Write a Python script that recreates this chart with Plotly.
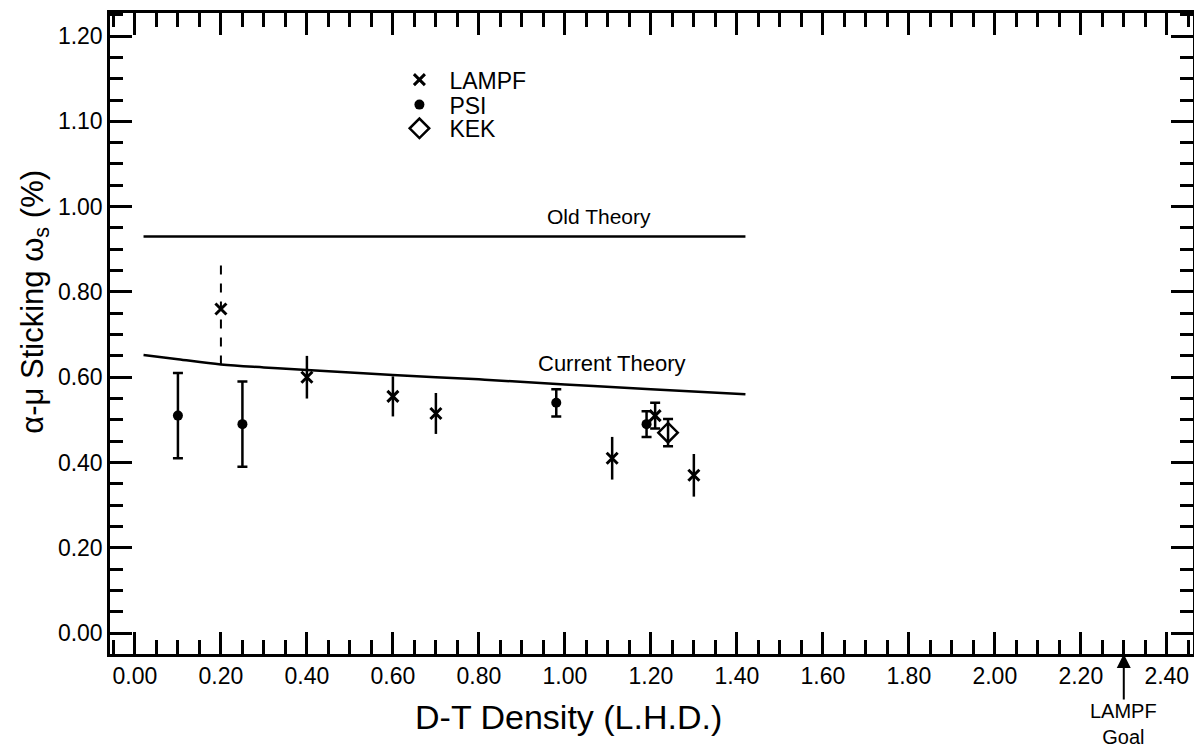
import plotly.graph_objects as go

# ---------------- data ----------------
lampf_x = [0.40, 0.60, 0.70, 1.11, 1.30]
lampf_y = [0.60, 0.555, 0.515, 0.41, 0.37]
lampf_err = [0.05, 0.047, 0.048, 0.05, 0.05]

lampf_dash_x = [0.20]
lampf_dash_y = [0.76]
lampf_dash_up = [0.12]
lampf_dash_dn = [0.13]

lampf_cap_x = [1.21]
lampf_cap_y = [0.51]
lampf_cap_err = [0.03]

psi_x = [0.10, 0.25, 0.98, 1.19]
psi_y = [0.51, 0.49, 0.54, 0.49]
psi_err = [0.10, 0.10, 0.032, 0.03]

kek_x = [1.24]
kek_y = [0.47]
kek_err = [0.032]

old_theory_x = [0.02, 1.42]
old_theory_y = [0.93, 0.93]

cur_theory_x = [0.02, 0.10, 0.20, 0.30, 0.40, 0.60, 0.80, 1.00, 1.20, 1.42]
cur_theory_y = [0.652, 0.642, 0.630, 0.623, 0.617, 0.605, 0.595, 0.583, 0.572, 0.560]

x_tickvals = [0.0, 0.2, 0.4, 0.6, 0.8, 1.0, 1.2, 1.4, 1.6, 1.8, 2.0, 2.2, 2.4]
y_tickvals = [0.0, 0.2, 0.4, 0.6, 0.8, 1.0, 1.2, 1.4]
y_ticktext = ["0.00", "0.20", "0.40", "0.60", "0.80", "1.00", "1.10", "1.20"]

goal_x = 2.30

FONT = "Liberation Sans, Arial, sans-serif"
BLACK = "black"

fig = go.Figure()

# theory curves
fig.add_trace(go.Scatter(x=old_theory_x, y=old_theory_y, mode="lines",
                         line=dict(color=BLACK, width=2.5), showlegend=False,
                         hoverinfo="skip"))
fig.add_trace(go.Scatter(x=cur_theory_x, y=cur_theory_y, mode="lines",
                         line=dict(color=BLACK, width=2.5, shape="spline"),
                         showlegend=False, hoverinfo="skip"))

# dashed error bar for the first LAMPF point
for xv, yv, up, dn in zip(lampf_dash_x, lampf_dash_y, lampf_dash_up, lampf_dash_dn):
    fig.add_trace(go.Scatter(x=[xv, xv], y=[yv - dn, yv + up], mode="lines",
                             line=dict(color=BLACK, width=2, dash="dash"),
                             showlegend=False, hoverinfo="skip"))

# LAMPF
fig.add_trace(go.Scatter(
    x=lampf_x + lampf_dash_x, y=lampf_y + lampf_dash_y, mode="markers",
    name="LAMPF", legend="legend",
    marker=dict(symbol="x-thin", size=11, color=BLACK, line=dict(color=BLACK, width=3)),
    error_y=dict(type="data", array=lampf_err + [0], color=BLACK, thickness=2.5, width=0),
))
fig.add_trace(go.Scatter(
    x=lampf_cap_x, y=lampf_cap_y, mode="markers", name="LAMPF", showlegend=False,
    marker=dict(symbol="x-thin", size=11, color=BLACK, line=dict(color=BLACK, width=3)),
    error_y=dict(type="data", array=lampf_cap_err, color=BLACK, thickness=2.5, width=5),
))

# PSI
fig.add_trace(go.Scatter(
    x=psi_x, y=psi_y, mode="markers", name="PSI", legend="legend2",
    marker=dict(symbol="circle", size=10, color=BLACK),
    error_y=dict(type="data", array=psi_err, color=BLACK, thickness=2.5, width=5),
))

# KEK
fig.add_trace(go.Scatter(
    x=kek_x, y=kek_y, mode="markers", name="KEK", legend="legend3",
    marker=dict(symbol="diamond-open", size=15, color=BLACK, line=dict(color=BLACK, width=2.5)),
    error_y=dict(type="data", array=kek_err, color=BLACK, thickness=2.5, width=5),
))

axis_common = dict(
    showgrid=False, zeroline=False, showline=True, linecolor=BLACK, linewidth=2.5,
    mirror="allticks", ticks="inside", ticklen=22, tickwidth=2.5, tickcolor=BLACK,
    tickfont=dict(family=FONT, size=23, color=BLACK),
)

fig.update_xaxes(
    range=[-0.058, 2.461], tickvals=x_tickvals, tickformat=".2f",
    minor=dict(dtick=0.05, tick0=0, ticks="inside", ticklen=14, tickwidth=2.5, tickcolor=BLACK),
    **axis_common,
)
fig.update_yaxes(
    range=[-0.049, 1.454], tickvals=y_tickvals, ticktext=y_ticktext,
    minor=dict(dtick=0.05, tick0=0, ticks="inside", ticklen=13, tickwidth=2.5, tickcolor=BLACK),
    **axis_common,
)

annotations = [
    dict(text="Old Theory", x=1.08, y=0.945, xref="x", yref="y", showarrow=False,
         yanchor="bottom", font=dict(family=FONT, size=21, color=BLACK)),
    dict(text="Current Theory", x=1.11, y=0.632, xref="x", yref="y", showarrow=False,
         font=dict(family=FONT, size=22, color=BLACK)),
    dict(text="D-T Density (L.H.D.)", x=0.423, y=-0.099, xref="paper", yref="paper",
         showarrow=False, yanchor="middle", font=dict(family=FONT, size=34, color=BLACK)),
    dict(text="α-μ Sticking ω<sub>s</sub> (%)", x=-0.069, y=0.55, xref="paper", yref="paper",
         showarrow=False, textangle=-90, xanchor="center", yanchor="middle",
         font=dict(family=FONT, size=31, color=BLACK)),
    # arrow pointing up at the goal density, with its two-line label below it
    dict(text="LAMPF<br>Goal", x=goal_x, y=0, xref="x", yref="paper", showarrow=True,
         ax=0, ay=70, arrowhead=2, arrowsize=1.4, arrowwidth=2, arrowcolor=BLACK,
         align="center", borderpad=0, font=dict(family=FONT, size=20, color=BLACK)),
]

leg_common = dict(x=0.258, xanchor="left", yanchor="middle", bgcolor="rgba(0,0,0,0)",
                  font=dict(family=FONT, size=23, color=BLACK), itemwidth=50,
                  itemsizing="trace", borderwidth=0)

# the page body has an 8px default margin: shrink the figure so that it fits the window
fig.update_layout(
    width=1194, height=744,
    margin=dict(l=102, r=9, t=2, b=98),
    paper_bgcolor="white", plot_bgcolor="white",
    font=dict(family=FONT, color=BLACK),
    annotations=annotations,
    legend=dict(y=0.896, **leg_common),
    legend2=dict(y=0.857, **leg_common),
    legend3=dict(y=0.820, **leg_common),
)

fig.write_html("out.html")
